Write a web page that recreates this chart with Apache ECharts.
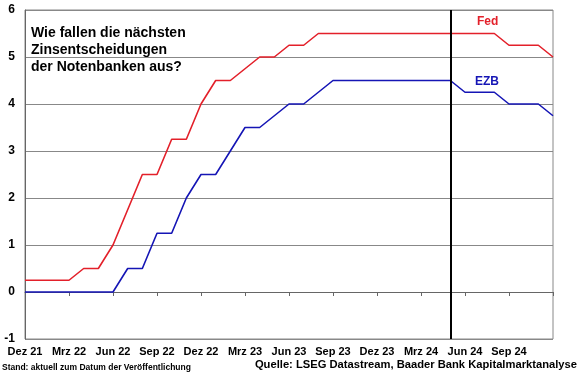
<!DOCTYPE html>
<html><head><meta charset="utf-8">
<script src="https://cdn.jsdelivr.net/npm/echarts@6/dist/echarts.min.js"></script>
<style>html,body{margin:0;padding:0;background:#fff}#c{width:580px;height:375px}</style>
</head><body><div id="c"></div>
<script>
var months = ['Dez 21','Jan 22','Feb 22','Mrz 22','Apr 22','Mai 22','Jun 22','Jul 22','Aug 22','Sep 22','Okt 22','Nov 22',
  'Dez 22','Jan 23','Feb 23','Mrz 23','Apr 23','Mai 23','Jun 23','Jul 23','Aug 23','Sep 23','Okt 23','Nov 23',
  'Dez 23','Jan 24','Feb 24','Mrz 24','Apr 24','Mai 24','Jun 24','Jul 24','Aug 24','Sep 24','Okt 24','Nov 24','Dez 24'];
var shownLabels = ['Dez 21','Mrz 22','Jun 22','Sep 22','Dez 22','Mrz 23','Jun 23','Sep 23','Dez 23','Mrz 24','Jun 24','Sep 24'];
var fed = [0.25,0.25,0.25,0.25,0.5,0.5,1.0,1.75,2.5,2.5,3.25,3.25,
  4.0,4.5,4.5,4.75,5.0,5.0,5.25,5.25,5.5,5.5,5.5,5.5,
  5.5,5.5,5.5,5.5,5.5,5.5,5.5,5.5,5.5,5.25,5.25,5.25,5.0];
var ezb = [0,0,0,0,0,0,0,0.5,0.5,1.25,1.25,2.0,
  2.5,2.5,3.0,3.5,3.5,3.75,4.0,4.0,4.25,4.5,4.5,4.5,
  4.5,4.5,4.5,4.5,4.5,4.5,4.25,4.25,4.25,4.0,4.0,4.0,3.75];
var markerMonth = 'Mai 24';
var titleLines = ['Wie fallen die nächsten','Zinsentscheidungen','der Notenbanken aus?'];

var chart = echarts.init(document.getElementById('c'));
var font = 'Liberation Sans, Arial, sans-serif';
chart.setOption({
  animation:false,
  grid:{left:25,right:27,top:10,bottom:36,show:true,borderColor:'#888',borderWidth:1},
  xAxis:{type:'category',data:months,boundaryGap:false,
    axisLine:{lineStyle:{color:'#666'}},
    axisTick:{interval:2,length:4,lineStyle:{color:'#666'}},
    axisLabel:{interval:2,margin:7,color:'#000',fontFamily:font,fontWeight:'bold',fontSize:11,
      formatter:function(v){return shownLabels.indexOf(v)>=0?v:'';}},
    splitLine:{show:false}},
  yAxis:{type:'value',min:-1,max:6,interval:1,
    axisLine:{show:true,lineStyle:{color:'#666'}},
    axisTick:{show:false},
    axisLabel:{margin:10,color:'#000',fontFamily:font,fontWeight:'bold',fontSize:12},
    splitLine:{lineStyle:{color:'#888',width:1}}},
  series:[
    {name:'Fed',type:'line',data:fed,symbol:'none',lineStyle:{color:'#e3202a',width:1.6},
      markLine:{silent:true,symbol:'none',label:{show:false},
        lineStyle:{color:'#000',width:2,type:'solid'},data:[{xAxis:markerMonth}]}},
    {name:'EZB',type:'line',data:ezb,symbol:'none',lineStyle:{color:'#1515b5',width:1.6}}
  ],
  graphic:[
    {type:'text',left:31,top:25,style:{text:titleLines.join('\n'),font:'bold 14px '+font,lineHeight:17,fill:'#000'}},
    {type:'text',left:477,top:16,style:{text:'Fed',font:'bold 12px '+font,fill:'#e3202a'}},
    {type:'text',left:475,top:76,style:{text:'EZB',font:'bold 12px '+font,fill:'#1515b5'}},
    {type:'text',left:2,top:363,style:{text:'Stand: aktuell zum Datum der Veröffentlichung',font:'bold 8.5px '+font,fill:'#000'}},
    {type:'text',right:3,top:359,style:{text:'Quelle: LSEG Datastream, Baader Bank Kapitalmarktanalyse',font:'bold 11.2px '+font,fill:'#000'}}
  ]
});
</script></body></html>
